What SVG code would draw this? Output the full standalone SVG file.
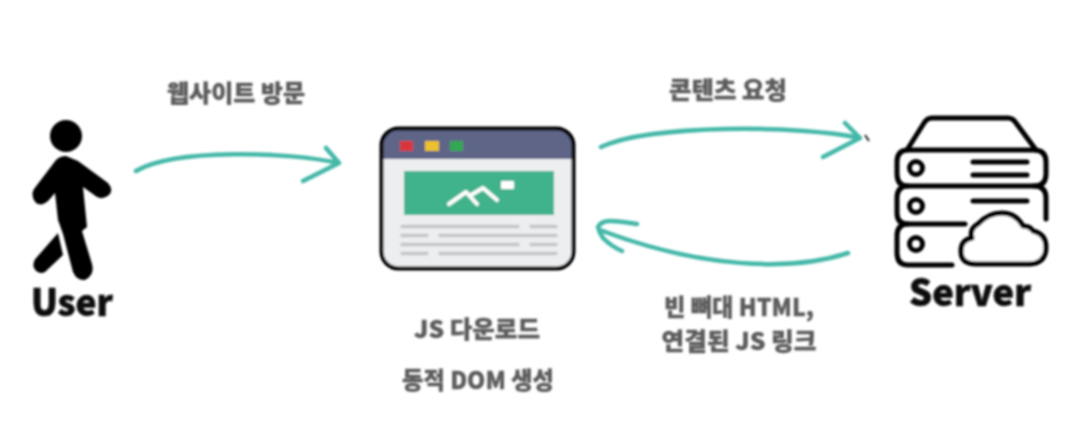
<svg xmlns="http://www.w3.org/2000/svg" width="1084" height="434" viewBox="0 0 1084 434">
<defs>
<style>
.lbl{font-family:"Noto Sans CJK KR","Noto Sans",sans-serif;font-weight:900;font-size:24px;fill:#5c5c5c;stroke:#5c5c5c;stroke-width:.3;text-anchor:middle}
.big{font-family:"Noto Sans CJK KR","Noto Sans",sans-serif;font-weight:900;font-size:37px;fill:#0d0d0d;stroke:#0d0d0d;stroke-width:.6;text-anchor:middle}
.conn{fill:none;stroke:#45b8a8;stroke-width:4.5;stroke-linecap:round;stroke-linejoin:round}
.srv{fill:none;stroke:#000;stroke-width:5;stroke-linecap:round;stroke-linejoin:round}
.gl{fill:none;stroke:#c3c6c9;stroke-width:3.5;stroke-linecap:round}
</style>
<filter id="soft" x="-5%" y="-5%" width="110%" height="110%"><feGaussianBlur stdDeviation="0.8"/></filter>
</defs>
<rect width="1084" height="434" fill="#fff"/>
<g filter="url(#soft)">
<g id="connectors">
<path class="conn" d="M136 171C175 148 290 152 338 163M326 148L339 163L303 181"/>
<path class="conn" d="M601 147C650 124 800 125 860 138M845 123L860 138L823 157"/>
<path class="conn" d="M848 253C790 272 700 268 600 230M637 224C625 222 617 221 610 221C604 221 600 223 598 227C599 232 601 235 603 238C609 244 615 248 622 251"/>
<path d="M865 135L869 141" stroke="#222" stroke-width="2" fill="none"/>
</g>
<g id="user">
<circle cx="66" cy="136" r="16"/>
<path d="M56 160Q60 156 66 156L78 161L108 183Q114 190 109 195Q103 200 97 197L83 187L87 227L82 231L92 264Q95 275 85 280Q77 281 73 272L63 234L58 220L55 193L49 200Q42 207 36 203Q30 196 34 189Z"/>
<path d="M58 233L63 255L45 272Q38 275 34 268Q32 262 37 257Z"/>
<text class="big" x="72" y="316" textLength="82" lengthAdjust="spacingAndGlyphs">User</text>
</g>
<g id="browser">
<rect x="381.500" y="128.500" width="192" height="140" rx="17" fill="#eceef0"/>
<path d="M383 159V145Q383 130 398 130H557Q572 130 572 145V159Z" fill="#5f6587"/>
<rect x="381.500" y="128.500" width="192" height="140" rx="17" fill="none" stroke="#000" stroke-width="4"/>
<rect x="400" y="141" width="13" height="10" fill="#d9363e"/>
<rect x="425" y="141" width="14" height="10" fill="#e9c02f"/>
<rect x="450" y="141" width="13" height="10" fill="#33a852"/>
<rect x="404" y="171" width="150" height="44" fill="#3fb38c"/>
<path d="M449 204L466 192L477 204M471 195L483 188L497 200" fill="none" stroke="#fff" stroke-width="4" stroke-linecap="round" stroke-linejoin="round"/>
<rect x="501" y="181" width="13" height="8" rx="1" fill="#fff"/>
<path class="gl" d="M402 226.500H518M531 226.500H556M402 235.500H427M440 235.500H556M402 244.500H518M531 244.500H556M402 253.500H427M440 253.500H556"/>
</g>
<g id="server">
<path class="srv" d="M907 150L924 123Q927 118 932 118H1008Q1013 118 1016 123L1036 150"/>
<path class="srv" d="M908 150H1034Q1046 150 1046 162V174Q1046 186 1034 186H908Q897 186 897 174V162Q897 150 908 150Z"/>
<path class="srv" d="M908 186Q897 186 897 198V213Q897 224 908 224H965M1034 186Q1046 186 1046 198V219"/>
<path class="srv" d="M908 224Q897 224 897 236V253Q897 265 908 265H952"/>
<circle class="srv" cx="916" cy="168" r="6.500"/>
<circle class="srv" cx="916" cy="206" r="6.500"/>
<circle class="srv" cx="916" cy="244" r="6.500"/>
<path class="srv" d="M973 162H1027M973 175H1027M973 201H1027"/>
<path class="srv" d="M976 264Q961 264 961 251Q961 240 972 238Q969 229 978 224Q988 213 1002 213Q1016 213 1023 226Q1030 226 1033 231Q1046 234 1046 247Q1046 263 1030 264Z" style="fill:#fff"/>
<text class="big" x="970" y="306" textLength="122" lengthAdjust="spacingAndGlyphs">Server</text>
</g>
<g id="labels">
<text class="lbl" x="236" y="102" textLength="138" lengthAdjust="spacingAndGlyphs">웹사이트 방문</text>
<text class="lbl" x="728" y="99" textLength="118" lengthAdjust="spacingAndGlyphs">콘텐츠 요청</text>
<text class="lbl" x="739" y="316" textLength="150" lengthAdjust="spacingAndGlyphs">빈 뼈대 HTML,</text>
<text class="lbl" x="739" y="350" textLength="155" lengthAdjust="spacingAndGlyphs">연결된 JS 링크</text>
<text class="lbl" x="477" y="338" textLength="126" lengthAdjust="spacingAndGlyphs">JS 다운로드</text>
<text class="lbl" x="478" y="389" textLength="152" lengthAdjust="spacingAndGlyphs">동적 DOM 생성</text>
</g>
</g>
</svg>
